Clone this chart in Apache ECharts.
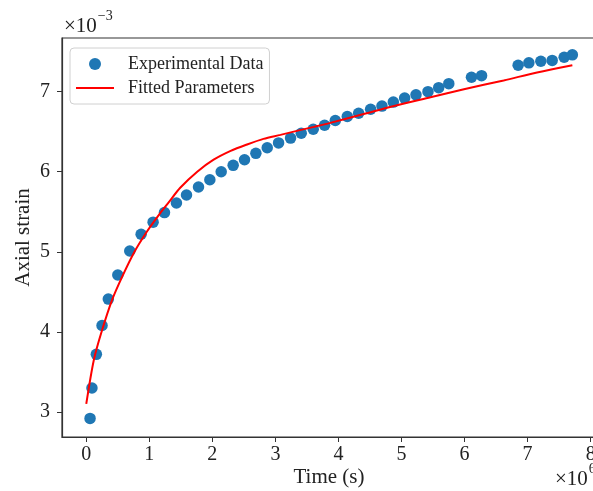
<!DOCTYPE html>
<html>
<head>
<meta charset="utf-8">
<script src="https://cdn.jsdelivr.net/npm/echarts@6/dist/echarts.min.js"></script>
<style>
  html, body { margin: 0; padding: 0; background: #fff; }
  #chart { width: 593px; height: 491px; }
</style>
</head>
<body>
<div id="chart"></div>
<script>
// Creep test: time in units of 1e6 s, axial strain in units of 1e-3
const expTime = [0.06, 0.09, 0.16, 0.25, 0.35, 0.50, 0.69, 0.87, 1.06, 1.24, 1.43,
  1.59, 1.78, 1.96, 2.14, 2.33, 2.51, 2.69, 2.87, 3.05, 3.24, 3.41, 3.60, 3.78, 3.95,
  4.14, 4.32, 4.51, 4.69, 4.87, 5.05, 5.23, 5.42, 5.59, 5.75, 6.11, 6.27,
  6.85, 7.02, 7.21, 7.39, 7.58, 7.71];
const expStrain = [2.92, 3.30, 3.72, 4.08, 4.41, 4.71, 5.01, 5.22, 5.37, 5.49, 5.61,
  5.71, 5.81, 5.90, 6.00, 6.08, 6.15, 6.23, 6.30, 6.36, 6.42, 6.48, 6.53, 6.58, 6.64,
  6.69, 6.73, 6.78, 6.82, 6.87, 6.92, 6.96, 7.00, 7.05, 7.10, 7.18, 7.20,
  7.33, 7.36, 7.38, 7.39, 7.43, 7.46];

const fitTime = [0.00, 0.12, 0.25, 0.41, 0.57, 0.75, 0.96, 1.17, 1.31, 1.49, 1.76,
  2.02, 2.29, 2.55, 2.81, 3.08, 3.34, 3.61, 3.87, 4.40, 4.93, 5.46, 5.99, 6.62, 7.15, 7.71];
const fitStrain = [3.10, 3.65, 4.02, 4.40, 4.69, 4.98, 5.25, 5.48, 5.62, 5.80, 6.00,
  6.15, 6.26, 6.34, 6.41, 6.46, 6.51, 6.56, 6.61, 6.72, 6.83, 6.93, 7.03, 7.14, 7.24, 7.33];

const xTicks = [0, 1, 2, 3, 4, 5, 6, 7, 8];
const yTicks = [3, 4, 5, 6, 7];

const FONT = "'Liberation Serif', 'Times New Roman', serif";
const INK = '#222';

const chart = echarts.init(document.getElementById('chart'), null, { renderer: 'canvas' });

const pairs = (xs, ys) => xs.map((x, i) => [x, ys[i]]);

const sciRich = {
  b: { fontFamily: FONT, fontSize: 21, fill: INK, verticalAlign: 'bottom', lineHeight: 28 },
  s: { fontFamily: FONT, fontSize: 14, fill: INK, verticalAlign: 'top', lineHeight: 28, padding: [0, 0, 12, 1] }
};

chart.setOption({
  animation: false,
  backgroundColor: '#fff',
  textStyle: { fontFamily: FONT },
  grid: {
    left: 62, top: 38, width: 534, height: 399,
    containLabel: false,
    outerBoundsMode: 'none',
    show: true, borderColor: '#333', borderWidth: 1.2, backgroundColor: 'transparent'
  },
  legend: {
    orient: 'vertical',
    left: 70, top: 48,
    padding: [6, 6, 6, 6],
    backgroundColor: '#fff',
    borderColor: '#d0d0d0', borderWidth: 1, borderRadius: 4,
    itemWidth: 38, itemHeight: 12, itemGap: 4,
    textStyle: { fontFamily: FONT, fontSize: 18, color: INK, lineHeight: 20, padding: [0, 0, 0, 9] },
    data: [
      { name: 'Experimental Data', icon: 'circle' },
      { name: 'Fitted Parameters', icon: 'path://M0,0H38V2H0Z', itemStyle: { color: '#ff0000' } }
    ]
  },
  xAxis: {
    type: 'value',
    min: -0.385, max: 8.085,
    name: 'Time (s)',
    nameLocation: 'middle', nameGap: 30,
    nameMoveOverlap: false,
    nameTextStyle: { fontFamily: FONT, fontSize: 21, color: INK },
    axisLine: { show: true, onZero: false, lineStyle: { color: '#333', width: 1.2 } },
    axisTick: { show: true, length: 5, inside: false, customValues: xTicks, lineStyle: { color: '#333' } },
    axisLabel: { customValues: xTicks, margin: 8, fontFamily: FONT, fontSize: 20, color: INK },
    splitLine: { show: false }
  },
  yAxis: {
    type: 'value',
    min: 2.6875, max: 7.67,
    name: 'Axial strain',
    nameLocation: 'middle', nameGap: 28,
    nameMoveOverlap: false,
    nameTextStyle: { fontFamily: FONT, fontSize: 21, color: INK },
    axisLine: { show: true, onZero: false, lineStyle: { color: '#333', width: 1.2 } },
    axisTick: { show: true, length: 5, inside: false, customValues: yTicks, lineStyle: { color: '#333' } },
    axisLabel: { customValues: yTicks, margin: 12, fontFamily: FONT, fontSize: 20, color: INK },
    splitLine: { show: false }
  },
  series: [
    {
      name: 'Experimental Data',
      type: 'scatter',
      symbol: 'circle',
      symbolSize: 11.5,
      itemStyle: { color: '#1f77b4', opacity: 1 },
      data: pairs(expTime, expStrain),
      z: 2
    },
    {
      name: 'Fitted Parameters',
      type: 'line',
      smooth: 0.3,
      showSymbol: false,
      symbol: 'none',
      lineStyle: { color: '#ff0000', width: 2 },
      itemStyle: { color: '#ff0000' },
      data: pairs(fitTime, fitStrain),
      z: 3
    }
  ],
  graphic: [
    {
      type: 'text', left: 64, top: 9,
      style: { text: '{b|×10}{s|−3}', rich: sciRich }
    },
    {
      type: 'text', left: 555, top: 462,
      style: { text: '{b|×10}{s|6}', rich: sciRich }
    }
  ]
});
</script>
</body>
</html>
